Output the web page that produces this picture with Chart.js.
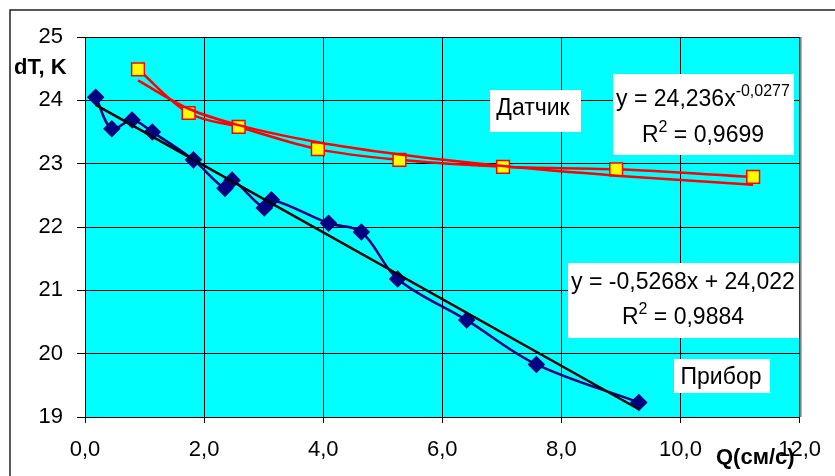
<!DOCTYPE html>
<html>
<head>
<meta charset="utf-8">
<script src="https://cdn.jsdelivr.net/npm/chart.js@4.4.1/dist/chart.umd.min.js"></script>
<style>
    html, body { margin: 0; padding: 0; background: #fff; overflow: hidden; }
</style>
</head>
<body>
<canvas id="dtChart" width="835" height="476"></canvas>
<script>
// Прибор (device) readings
const priborQ  = [0.18, 0.45, 0.79, 1.13, 1.82, 2.35, 2.47, 3.01, 3.13, 4.09, 4.64, 5.25, 6.41, 7.58, 9.30];
const priborDT = [24.05, 23.55, 23.69, 23.50, 23.06, 22.61, 22.74, 22.30, 22.43, 22.06, 21.92, 21.18, 20.53, 19.83, 19.23];

// Датчик (sensor) readings
const datchikQ  = [0.89, 1.74, 2.58, 3.91, 5.28, 7.02, 8.92, 11.22];
const datchikDT = [24.49, 23.80, 23.58, 23.23, 23.06, 22.95, 22.91, 22.79];

// trendline coefficients as printed on the chart
const linSlope = -0.5268, linIntercept = 24.022;
const powA = 24.236, powB = -0.0277;

const xTicks = [0, 2, 4, 6, 8, 10, 12];
const yTicks = [19, 20, 21, 22, 23, 24, 25];

const FONT = '"Liberation Sans", Arial, sans-serif';

const linTrend = [priborQ[0], priborQ[priborQ.length - 1]].map(q => ({x: q, y: linSlope * q + linIntercept}));
const powTrend = datchikQ.map(q => ({x: q, y: powA * Math.pow(q, powB)}));

const toPoints = (xs, ys) => xs.map((x, i) => ({x: x, y: ys[i]}));

const backdrop = {
    id: 'backdrop',
    beforeDraw(chart) {
        const {ctx, chartArea: a} = chart;
        ctx.save();
        ctx.fillStyle = '#00ffff';
        ctx.fillRect(a.left, a.top, a.right - a.left, a.bottom - a.top);
        // outer frame, only top and left edges are in view
        ctx.strokeStyle = '#222';
        ctx.lineWidth = 1.5;
        ctx.beginPath();
        ctx.moveTo(10, 476);
        ctx.lineTo(10, 10);
        ctx.lineTo(835, 10);
        ctx.stroke();
        ctx.restore();
    },
    afterDatasetsDraw(chart) {
        const {ctx, chartArea: a} = chart;
        ctx.save();
        ctx.strokeStyle = '#808080';
        ctx.lineWidth = 2;
        ctx.beginPath();
        ctx.moveTo(a.right + 1, a.top);
        ctx.lineTo(a.right + 1, a.bottom);
        ctx.stroke();
        ctx.restore();
    }
};

const textBox = (ctx, x, y, w, h) => {
    ctx.fillStyle = '#fff';
    ctx.fillRect(x, y, w, h);
};

const supLine = (ctx, cx, base, main, sup) => {
    ctx.font = '23px ' + FONT;
    const w1 = ctx.measureText(main).width;
    ctx.font = '16px ' + FONT;
    const w2 = ctx.measureText(sup).width;
    const x0 = cx - (w1 + w2) / 2;
    ctx.textAlign = 'left';
    ctx.font = '23px ' + FONT;
    ctx.fillText(main, x0, base);
    ctx.font = '16px ' + FONT;
    ctx.fillText(sup, x0 + w1, base - 10);
};

const supFirst = (ctx, cx, base, first, sup, rest) => {
    ctx.font = '23px ' + FONT;
    const w1 = ctx.measureText(first).width;
    const w3 = ctx.measureText(rest).width;
    ctx.font = '16px ' + FONT;
    const w2 = ctx.measureText(sup).width;
    const x0 = cx - (w1 + w2 + w3) / 2;
    ctx.textAlign = 'left';
    ctx.font = '23px ' + FONT;
    ctx.fillText(first, x0, base);
    ctx.fillText(rest, x0 + w1 + w2, base);
    ctx.font = '16px ' + FONT;
    ctx.fillText(sup, x0 + w1, base - 10);
};

const labels = {
    id: 'labels',
    afterDraw(chart) {
        const ctx = chart.ctx;
        ctx.save();
        ctx.textBaseline = 'alphabetic';

        textBox(ctx, 490, 90, 91, 42);
        textBox(ctx, 613, 74, 181, 81);
        textBox(ctx, 568, 263, 231, 75);
        textBox(ctx, 674, 359, 96, 34);

        ctx.fillStyle = '#000';
        ctx.textAlign = 'center';
        ctx.font = '23px ' + FONT;
        ctx.fillText('Датчик', 533, 115);
        ctx.fillText('Прибор', 721, 384);
        ctx.fillText('y = -0,5268x + 24,022', 683, 289);

        supLine(ctx, 703, 106, 'y = 24,236x', '-0,0277');
        supFirst(ctx, 703, 142, 'R', '2', ' = 0,9699');
        supFirst(ctx, 683, 324, 'R', '2', ' = 0,9884');

        ctx.textAlign = 'left';
        ctx.font = 'bold 22px ' + FONT;
        ctx.fillText('dT, K', 14, 74);
        ctx.font = 'bold 22px ' + FONT;
        ctx.fillText('Q(см/с)', 716, 464);
        ctx.restore();
    }
};

new Chart(document.getElementById('dtChart'), {
    type: 'line',
    data: {
        datasets: [
            {
                label: 'лин. тренд',
                data: linTrend,
                borderColor: '#000',
                borderWidth: 2.5,
                pointRadius: 0,
                tension: 0,
                order: 0
            },
            {
                label: 'степ. тренд',
                data: powTrend,
                borderColor: '#ff0000',
                borderWidth: 2.5,
                pointRadius: 0,
                cubicInterpolationMode: 'monotone',
                order: 1
            },
            {
                label: 'Прибор',
                data: toPoints(priborQ, priborDT),
                borderColor: '#000080',
                borderWidth: 2.5,
                tension: 0.35,
                pointStyle: 'rectRot',
                pointRadius: 7,
                pointBackgroundColor: '#000080',
                pointBorderColor: '#000080',
                order: 2
            },
            {
                label: 'Датчик',
                data: toPoints(datchikQ, datchikDT),
                borderColor: '#ff0000',
                borderWidth: 2.5,
                tension: 0.35,
                pointStyle: 'rect',
                pointRadius: 9,
                pointBorderWidth: 1.5,
                pointBackgroundColor: '#ffff00',
                pointBorderColor: '#ff0000',
                order: 3
            }
        ]
    },
    options: {
        responsive: false,
        animation: false,
        devicePixelRatio: 1,
        layout: { padding: { top: 37, right: 25, left: 0, bottom: 0 } },
        plugins: {
            legend: { display: false },
            tooltip: { enabled: false }
        },
        scales: {
            x: {
                type: 'linear',
                min: 0,
                max: 12,
                afterBuildTicks: scale => { scale.ticks = xTicks.map(v => ({value: v})); },
                afterFit: scale => { scale.height = 59; },
                grid: { color: '#000', lineWidth: 1, tickColor: '#000', tickLength: 6 },
                border: { color: '#000', width: 1 },
                ticks: {
                    color: '#000',
                    padding: 14,
                    maxRotation: 0,
                    font: { family: FONT, size: 22 },
                    callback: v => v.toFixed(1).replace('.', ',')
                }
            },
            y: {
                type: 'linear',
                min: 19,
                max: 25,
                afterBuildTicks: scale => { scale.ticks = yTicks.map(v => ({value: v})); },
                afterFit: scale => { scale.width = 85; },
                grid: { color: '#000', lineWidth: 1, tickColor: '#000', tickLength: 8 },
                border: { color: '#000', width: 1 },
                ticks: {
                    color: '#000',
                    padding: 14,
                    font: { family: FONT, size: 22 },
                    callback: v => String(v)
                }
            }
        }
    },
    plugins: [backdrop, labels]
});
</script>
</body>
</html>
